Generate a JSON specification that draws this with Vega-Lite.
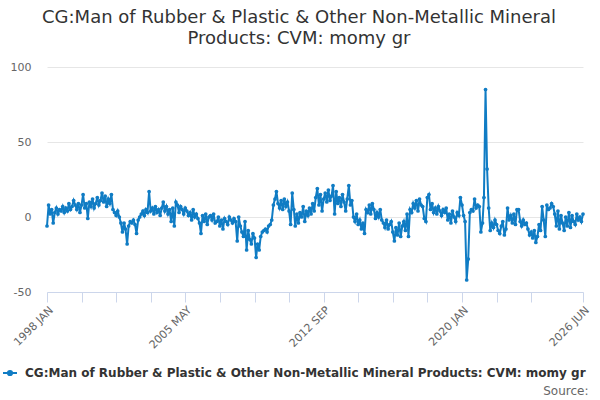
{
  "$schema": "https://vega.github.io/schema/vega-lite/v6.json",
  "width": 536,
  "height": 225,
  "autosize": {"type": "none"},
  "padding": {"left": 47, "top": 67, "right": 17, "bottom": 108},
  "background": "white",
  "title": {
    "text": ["CG:Man of Rubber & Plastic & Other Non-Metallic Mineral", "Products: CVM: momy gr"],
    "fontSize": 18,
    "fontWeight": "normal",
    "color": "#333333",
    "anchor": "middle",
    "frame": "group",
    "dx": -16,
    "offset": 13,
    "lineHeight": 21
  },
  "data": {
    "values": [
      {"month": "1998-01", "value": -6}, {"month": "1998-02", "value": 8}, {"month": "1998-03", "value": 2}, {"month": "1998-04", "value": 5},
      {"month": "1998-05", "value": -4}, {"month": "1998-06", "value": 3}, {"month": "1998-07", "value": 6}, {"month": "1998-08", "value": 2},
      {"month": "1998-09", "value": 5}, {"month": "1998-10", "value": 4}, {"month": "1998-11", "value": 7}, {"month": "1998-12", "value": 3},
      {"month": "1999-01", "value": 6}, {"month": "1999-02", "value": 4}, {"month": "1999-03", "value": 9}, {"month": "1999-04", "value": 5},
      {"month": "1999-05", "value": 7}, {"month": "1999-06", "value": 11}, {"month": "1999-07", "value": 8}, {"month": "1999-08", "value": 5},
      {"month": "1999-09", "value": 9}, {"month": "1999-10", "value": 3}, {"month": "1999-11", "value": 8}, {"month": "1999-12", "value": 15},
      {"month": "2000-01", "value": 6}, {"month": "2000-02", "value": 9}, {"month": "2000-03", "value": -1}, {"month": "2000-04", "value": 10},
      {"month": "2000-05", "value": 7}, {"month": "2000-06", "value": 12}, {"month": "2000-07", "value": 6}, {"month": "2000-08", "value": 9},
      {"month": "2000-09", "value": 13}, {"month": "2000-10", "value": 8}, {"month": "2000-11", "value": 11}, {"month": "2000-12", "value": 16},
      {"month": "2001-01", "value": 10}, {"month": "2001-02", "value": 14}, {"month": "2001-03", "value": 7}, {"month": "2001-04", "value": 12},
      {"month": "2001-05", "value": 9}, {"month": "2001-06", "value": 15}, {"month": "2001-07", "value": 5}, {"month": "2001-08", "value": 3},
      {"month": "2001-09", "value": 1}, {"month": "2001-10", "value": 4}, {"month": "2001-11", "value": 0}, {"month": "2001-12", "value": -4},
      {"month": "2002-01", "value": -10}, {"month": "2002-02", "value": -4}, {"month": "2002-03", "value": -8}, {"month": "2002-04", "value": -18},
      {"month": "2002-05", "value": -6}, {"month": "2002-06", "value": -3}, {"month": "2002-07", "value": -4}, {"month": "2002-08", "value": -2},
      {"month": "2002-09", "value": -5}, {"month": "2002-10", "value": -11}, {"month": "2002-11", "value": -2}, {"month": "2002-12", "value": 0},
      {"month": "2003-01", "value": 2}, {"month": "2003-02", "value": 4}, {"month": "2003-03", "value": 1}, {"month": "2003-04", "value": 5},
      {"month": "2003-05", "value": 3}, {"month": "2003-06", "value": 17}, {"month": "2003-07", "value": 4}, {"month": "2003-08", "value": 6},
      {"month": "2003-09", "value": 2}, {"month": "2003-10", "value": 7}, {"month": "2003-11", "value": 3}, {"month": "2003-12", "value": 5},
      {"month": "2004-01", "value": 1}, {"month": "2004-02", "value": 6}, {"month": "2004-03", "value": 10}, {"month": "2004-04", "value": 4},
      {"month": "2004-05", "value": 7}, {"month": "2004-06", "value": 2}, {"month": "2004-07", "value": 5}, {"month": "2004-08", "value": -3},
      {"month": "2004-09", "value": 6}, {"month": "2004-10", "value": -6}, {"month": "2004-11", "value": 10}, {"month": "2004-12", "value": 8},
      {"month": "2005-01", "value": 3}, {"month": "2005-02", "value": 7}, {"month": "2005-03", "value": 5}, {"month": "2005-04", "value": 2},
      {"month": "2005-05", "value": 6}, {"month": "2005-06", "value": 4}, {"month": "2005-07", "value": 1}, {"month": "2005-08", "value": 3},
      {"month": "2005-09", "value": -2}, {"month": "2005-10", "value": 5}, {"month": "2005-11", "value": 0}, {"month": "2005-12", "value": 2},
      {"month": "2006-01", "value": -1}, {"month": "2006-02", "value": -4}, {"month": "2006-03", "value": -11}, {"month": "2006-04", "value": 1},
      {"month": "2006-05", "value": -3}, {"month": "2006-06", "value": 2}, {"month": "2006-07", "value": -5}, {"month": "2006-08", "value": 0},
      {"month": "2006-09", "value": 1}, {"month": "2006-10", "value": -2}, {"month": "2006-11", "value": 2}, {"month": "2006-12", "value": -4},
      {"month": "2007-01", "value": -3}, {"month": "2007-02", "value": 0}, {"month": "2007-03", "value": -6}, {"month": "2007-04", "value": -2},
      {"month": "2007-05", "value": -8}, {"month": "2007-06", "value": -1}, {"month": "2007-07", "value": -3}, {"month": "2007-08", "value": -5},
      {"month": "2007-09", "value": 0}, {"month": "2007-10", "value": -2}, {"month": "2007-11", "value": -4}, {"month": "2007-12", "value": -1},
      {"month": "2008-01", "value": -3}, {"month": "2008-02", "value": -16}, {"month": "2008-03", "value": 0}, {"month": "2008-04", "value": -6},
      {"month": "2008-05", "value": -10}, {"month": "2008-06", "value": -13}, {"month": "2008-07", "value": -3}, {"month": "2008-08", "value": -22},
      {"month": "2008-09", "value": -9}, {"month": "2008-10", "value": -15}, {"month": "2008-11", "value": -18}, {"month": "2008-12", "value": -11},
      {"month": "2009-01", "value": -14}, {"month": "2009-02", "value": -27}, {"month": "2009-03", "value": -18}, {"month": "2009-04", "value": -22},
      {"month": "2009-05", "value": -13}, {"month": "2009-06", "value": -10}, {"month": "2009-07", "value": -9}, {"month": "2009-08", "value": -8},
      {"month": "2009-09", "value": -10}, {"month": "2009-10", "value": -6}, {"month": "2009-11", "value": -5}, {"month": "2009-12", "value": -2},
      {"month": "2010-01", "value": 8}, {"month": "2010-02", "value": 12}, {"month": "2010-03", "value": 17}, {"month": "2010-04", "value": 9},
      {"month": "2010-05", "value": 6}, {"month": "2010-06", "value": 11}, {"month": "2010-07", "value": 5}, {"month": "2010-08", "value": 12},
      {"month": "2010-09", "value": 7}, {"month": "2010-10", "value": 10}, {"month": "2010-11", "value": 4}, {"month": "2010-12", "value": -5},
      {"month": "2011-01", "value": 16}, {"month": "2011-02", "value": 5}, {"month": "2011-03", "value": -6}, {"month": "2011-04", "value": 2},
      {"month": "2011-05", "value": -4}, {"month": "2011-06", "value": 3}, {"month": "2011-07", "value": 0}, {"month": "2011-08", "value": 7},
      {"month": "2011-09", "value": -3}, {"month": "2011-10", "value": 4}, {"month": "2011-11", "value": 1}, {"month": "2011-12", "value": 6},
      {"month": "2012-01", "value": 2}, {"month": "2012-02", "value": 9}, {"month": "2012-03", "value": 4}, {"month": "2012-04", "value": 13},
      {"month": "2012-05", "value": 19}, {"month": "2012-06", "value": 8}, {"month": "2012-07", "value": 15}, {"month": "2012-08", "value": 4},
      {"month": "2012-09", "value": 12}, {"month": "2012-10", "value": 16}, {"month": "2012-11", "value": 10}, {"month": "2012-12", "value": 18},
      {"month": "2013-01", "value": 11}, {"month": "2013-02", "value": 14}, {"month": "2013-03", "value": 21}, {"month": "2013-04", "value": 2},
      {"month": "2013-05", "value": 17}, {"month": "2013-06", "value": 9}, {"month": "2013-07", "value": 13}, {"month": "2013-08", "value": 7},
      {"month": "2013-09", "value": 15}, {"month": "2013-10", "value": 10}, {"month": "2013-11", "value": 4}, {"month": "2013-12", "value": 12},
      {"month": "2014-01", "value": 21}, {"month": "2014-02", "value": 8}, {"month": "2014-03", "value": 11}, {"month": "2014-04", "value": 0},
      {"month": "2014-05", "value": -3}, {"month": "2014-06", "value": 2}, {"month": "2014-07", "value": -5}, {"month": "2014-08", "value": -2},
      {"month": "2014-09", "value": -8}, {"month": "2014-10", "value": -4}, {"month": "2014-11", "value": -11}, {"month": "2014-12", "value": 5},
      {"month": "2015-01", "value": 3}, {"month": "2015-02", "value": 8}, {"month": "2015-03", "value": 2}, {"month": "2015-04", "value": 9},
      {"month": "2015-05", "value": 5}, {"month": "2015-06", "value": -1}, {"month": "2015-07", "value": 3}, {"month": "2015-08", "value": 0},
      {"month": "2015-09", "value": 5}, {"month": "2015-10", "value": -2}, {"month": "2015-11", "value": -4}, {"month": "2015-12", "value": -7},
      {"month": "2016-01", "value": -2}, {"month": "2016-02", "value": -8}, {"month": "2016-03", "value": -5}, {"month": "2016-04", "value": -3},
      {"month": "2016-05", "value": -10}, {"month": "2016-06", "value": -16}, {"month": "2016-07", "value": -7}, {"month": "2016-08", "value": -12},
      {"month": "2016-09", "value": -4}, {"month": "2016-10", "value": -13}, {"month": "2016-11", "value": -6}, {"month": "2016-12", "value": -3},
      {"month": "2017-01", "value": -9}, {"month": "2017-02", "value": 2}, {"month": "2017-03", "value": -13}, {"month": "2017-04", "value": 5},
      {"month": "2017-05", "value": 3}, {"month": "2017-06", "value": 9}, {"month": "2017-07", "value": 6}, {"month": "2017-08", "value": 11},
      {"month": "2017-09", "value": 4}, {"month": "2017-10", "value": 12}, {"month": "2017-11", "value": 8}, {"month": "2017-12", "value": 7},
      {"month": "2018-01", "value": -1}, {"month": "2018-02", "value": -3}, {"month": "2018-03", "value": 13}, {"month": "2018-04", "value": 15},
      {"month": "2018-05", "value": 5}, {"month": "2018-06", "value": 9}, {"month": "2018-07", "value": 3}, {"month": "2018-08", "value": 6},
      {"month": "2018-09", "value": 2}, {"month": "2018-10", "value": 7}, {"month": "2018-11", "value": 4}, {"month": "2018-12", "value": 1},
      {"month": "2019-01", "value": 5}, {"month": "2019-02", "value": 3}, {"month": "2019-03", "value": 6}, {"month": "2019-04", "value": -2},
      {"month": "2019-05", "value": 2}, {"month": "2019-06", "value": -4}, {"month": "2019-07", "value": 4}, {"month": "2019-08", "value": 0},
      {"month": "2019-09", "value": -3}, {"month": "2019-10", "value": 3}, {"month": "2019-11", "value": 1}, {"month": "2019-12", "value": 13},
      {"month": "2020-01", "value": 8}, {"month": "2020-02", "value": 1}, {"month": "2020-03", "value": -3}, {"month": "2020-04", "value": -42},
      {"month": "2020-05", "value": -28}, {"month": "2020-06", "value": 3}, {"month": "2020-07", "value": 5}, {"month": "2020-08", "value": 4},
      {"month": "2020-09", "value": 12}, {"month": "2020-10", "value": 6}, {"month": "2020-11", "value": 8}, {"month": "2020-12", "value": 7},
      {"month": "2021-01", "value": -10}, {"month": "2021-02", "value": -4}, {"month": "2021-03", "value": 13}, {"month": "2021-04", "value": 85},
      {"month": "2021-05", "value": 32}, {"month": "2021-06", "value": 6}, {"month": "2021-07", "value": -9}, {"month": "2021-08", "value": -4},
      {"month": "2021-09", "value": -7}, {"month": "2021-10", "value": -2}, {"month": "2021-11", "value": -5}, {"month": "2021-12", "value": -9},
      {"month": "2022-01", "value": -11}, {"month": "2022-02", "value": -6}, {"month": "2022-03", "value": -3}, {"month": "2022-04", "value": -12},
      {"month": "2022-05", "value": -8}, {"month": "2022-06", "value": 6}, {"month": "2022-07", "value": -2}, {"month": "2022-08", "value": 1},
      {"month": "2022-09", "value": -4}, {"month": "2022-10", "value": 2}, {"month": "2022-11", "value": -5}, {"month": "2022-12", "value": 5},
      {"month": "2023-01", "value": 5}, {"month": "2023-02", "value": -3}, {"month": "2023-03", "value": -6}, {"month": "2023-04", "value": -2},
      {"month": "2023-05", "value": -5}, {"month": "2023-06", "value": -4}, {"month": "2023-07", "value": -8}, {"month": "2023-08", "value": -12},
      {"month": "2023-09", "value": -10}, {"month": "2023-10", "value": -14}, {"month": "2023-11", "value": -9}, {"month": "2023-12", "value": -17},
      {"month": "2024-01", "value": -13}, {"month": "2024-02", "value": -5}, {"month": "2024-03", "value": -9}, {"month": "2024-04", "value": 7},
      {"month": "2024-05", "value": -2}, {"month": "2024-06", "value": -13}, {"month": "2024-07", "value": 8}, {"month": "2024-08", "value": 5},
      {"month": "2024-09", "value": 6}, {"month": "2024-10", "value": 9}, {"month": "2024-11", "value": 7}, {"month": "2024-12", "value": 2},
      {"month": "2025-01", "value": -6}, {"month": "2025-02", "value": 4}, {"month": "2025-03", "value": -8}, {"month": "2025-04", "value": 1},
      {"month": "2025-05", "value": -4}, {"month": "2025-06", "value": -9}, {"month": "2025-07", "value": 0}, {"month": "2025-08", "value": -6},
      {"month": "2025-09", "value": 3}, {"month": "2025-10", "value": -7}, {"month": "2025-11", "value": 1}, {"month": "2025-12", "value": -3},
      {"month": "2026-01", "value": -5}, {"month": "2026-02", "value": 2}, {"month": "2026-03", "value": -2}, {"month": "2026-04", "value": 0},
      {"month": "2026-05", "value": -3}, {"month": "2026-06", "value": 2}
    ]
  },
  "mark": {
    "type": "line",
    "strokeWidth": 2,
    "point": {"filled": true, "size": 14}
  },
  "encoding": {
    "x": {
      "field": "month",
      "type": "temporal",
      "scale": {
        "type": "utc",
        "domain": [
          {"year": 1998, "month": 1, "date": 1, "utc": true},
          {"year": 2026, "month": 6, "date": 1, "utc": true}
        ]
      },
      "axis": {
        "title": "Source:",
        "titleAnchor": "end",
        "titleAlign": "right",
        "titleBaseline": "alphabetic",
        "titleX": 541,
        "titleY": 102,
        "titleFontSize": 12,
        "titleFontWeight": "normal",
        "titleColor": "#666666",
        "grid": false,
        "domainColor": "#ccd6eb",
        "tickColor": "#ccd6eb",
        "tickSize": 10,
        "labelAngle": -45,
        "labelColor": "#666666",
        "labelFontSize": 11,
        "labelPadding": 2,
        "labelOverlap": false,
        "values": [
          {"year": 1998, "month": 1, "date": 1, "utc": true},
          {"year": 1999, "month": 11, "date": 1, "utc": true},
          {"year": 2001, "month": 9, "date": 1, "utc": true},
          {"year": 2003, "month": 7, "date": 1, "utc": true},
          {"year": 2005, "month": 5, "date": 1, "utc": true},
          {"year": 2007, "month": 3, "date": 1, "utc": true},
          {"year": 2009, "month": 1, "date": 1, "utc": true},
          {"year": 2010, "month": 11, "date": 1, "utc": true},
          {"year": 2012, "month": 9, "date": 1, "utc": true},
          {"year": 2014, "month": 7, "date": 1, "utc": true},
          {"year": 2016, "month": 5, "date": 1, "utc": true},
          {"year": 2018, "month": 3, "date": 1, "utc": true},
          {"year": 2020, "month": 1, "date": 1, "utc": true},
          {"year": 2021, "month": 11, "date": 1, "utc": true},
          {"year": 2023, "month": 9, "date": 1, "utc": true},
          {"year": 2026, "month": 6, "date": 1, "utc": true}
        ],
        "labelExpr": "indexof(['1998-01','2005-05','2012-09','2020-01','2026-06'], utcFormat(datum.value, '%Y-%m')) >= 0 ? upper(utcFormat(datum.value, '%Y %b')) : ''"
      }
    },
    "y": {
      "field": "value",
      "type": "quantitative",
      "scale": {"domain": [-50, 100], "nice": false},
      "axis": {
        "title": null,
        "values": [-50, 0, 50, 100],
        "labelExpr": "'' + datum.value",
        "domain": false,
        "ticks": false,
        "gridColor": "#e6e6e6",
        "labelColor": "#666666",
        "labelFontSize": 11,
        "labelPadding": 16
      }
    },
    "color": {
      "datum": "CG:Man of Rubber & Plastic & Other Non-Metallic Mineral Products: CVM: momy gr",
      "type": "nominal",
      "scale": {"range": ["#107cc4"]},
      "legend": {
        "title": null,
        "orient": "none",
        "legendX": -45,
        "legendY": 298,
        "symbolType": "M-1,0H1M-0.3,0A0.3,0.3 0 1,0 0.3,0A0.3,0.3 0 1,0 -0.3,0",
        "symbolSize": 196,
        "symbolStrokeWidth": 2,
        "symbolFillColor": "#107cc4",
        "symbolStrokeColor": "#107cc4",
        "labelFontSize": 12,
        "labelFontWeight": "bold",
        "labelColor": "#333333",
        "labelLimit": 1000,
        "labelOffset": 7
      }
    }
  },
  "config": {
    "font": "DejaVu Sans",
    "view": {"stroke": null}
  }
}
